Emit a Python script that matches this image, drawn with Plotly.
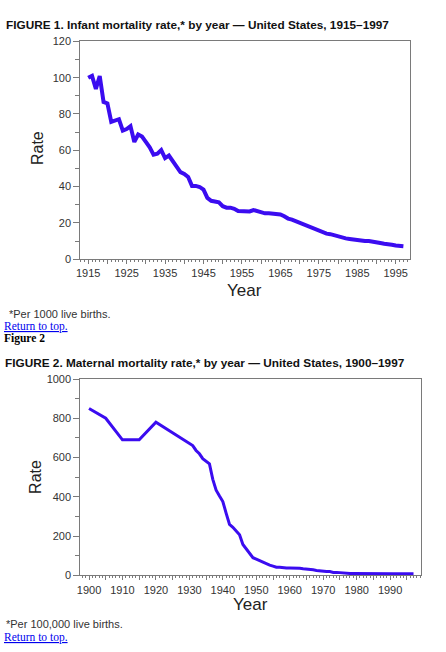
import plotly.graph_objects as go

# Figure 1: infant mortality per 1000 live births
infant_years = list(range(1915, 1998))
infant_rate = [
    99.9, 101.0, 93.8, 100.9, 86.6, 85.8, 75.6, 76.2, 77.1, 70.8,
    71.7, 73.3, 64.6, 68.7, 67.6, 64.6, 61.6, 57.6, 58.1, 60.1,
    55.7, 57.1, 54.4, 51.0, 48.0, 47.0, 45.3, 40.4, 40.4, 39.8,
    38.3, 33.8, 32.2, 32.0, 31.3, 29.2, 28.4, 28.4, 27.8, 26.6,
    26.4, 26.0, 26.3, 27.1, 26.4, 26.0, 25.3, 25.3, 25.2, 24.8,
    24.7, 23.7, 22.4, 21.8, 20.9, 20.0, 19.1, 18.5, 17.7, 16.7,
    16.1, 15.2, 14.1, 13.8, 13.1, 12.6, 11.9, 11.5, 11.2, 10.8,
    10.6, 10.4, 10.1, 10.0, 9.8, 9.2, 8.9, 8.5, 8.4, 8.0,
    7.6, 7.3, 7.2,
]

# Figure 2: maternal mortality per 100,000 live births
maternal_years = [1900, 1905, 1910, 1915, 1920] + list(range(1930, 1998))
maternal_rate = [
    850, 800, 690, 690, 780,
    673, 661, 636, 619, 594, 582, 568, 489, 434, 404,
    376, 316, 259, 245, 228, 207, 157, 134, 117, 90,
    83, 75, 68, 61, 52, 47, 41, 41, 38, 37,
    37, 37, 35, 36, 33, 32, 29, 28, 25, 22,
    21.5, 19, 19, 15, 15, 12.8, 12.3, 11.2, 9.6, 9.6,
    9.2, 8.5, 7.9, 8.0, 7.8, 7.8, 7.2, 6.6, 8.4, 7.9,
    8.2, 7.9, 7.8, 7.5, 8.3, 7.1, 7.6, 8.4,
]

infant_ticks = [1915, 1920, 1925, 1930, 1935, 1940, 1945, 1950, 1955,
                1960, 1965, 1970, 1975, 1980, 1985, 1990, 1995]
maternal_ticks = [1900, 1905, 1910, 1915, 1920, 1925, 1930, 1935, 1940,
                  1945, 1950, 1955, 1960, 1965, 1970, 1975, 1980, 1985,
                  1990, 1995]

W, H = 446, 652


def px(x):
    return x / W


def py(y):
    return 1 - y / H


LINE = "#3b0cf0"
SANS = "Liberation Sans"
SERIF = "Liberation Serif"
AXIS = "#7a7a7a"

fig = go.Figure()

fig.add_trace(go.Scatter(
    x=infant_years, y=infant_rate, mode="lines",
    line=dict(color=LINE, width=4), xaxis="x", yaxis="y",
))
fig.add_trace(go.Scatter(
    x=maternal_years, y=maternal_rate, mode="lines",
    line=dict(color=LINE, width=3), xaxis="x2", yaxis="y2",
))


def xaxis(domain, rng, ticks, anchor):
    return dict(
        domain=domain, range=rng, anchor=anchor,
        tickvals=ticks,
        ticktext=[str(t) if t % 10 == ticks[0] % 10 else "" for t in ticks],
        ticks="outside", ticklen=4, tickwidth=1, tickcolor=AXIS,
        minor=dict(dtick=1, tick0=ticks[0], ticks="outside", ticklen=2,
                   tickcolor=AXIS, showgrid=False),
        showline=True, linecolor=AXIS, linewidth=1, mirror=True,
        showgrid=False, zeroline=False, fixedrange=True,
        tickfont=dict(family=SANS, size=11, color="#333333"),
    )


def yaxis(domain, rng, dtick, anchor):
    return dict(
        domain=domain, range=rng, anchor=anchor, dtick=dtick,
        ticks="outside", ticklen=6, tickwidth=1, tickcolor=AXIS,
        minor=dict(dtick=dtick / 2, ticks="outside", ticklen=4,
                   tickcolor=AXIS, showgrid=False),
        showline=True, linecolor=AXIS, linewidth=1, mirror=True,
        showgrid=False, zeroline=False, fixedrange=True,
        tickfont=dict(family=SANS, size=11, color="#333333"),
    )


fig.update_layout(
    width=W, height=H,
    margin=dict(l=0, r=0, t=0, b=0),
    paper_bgcolor="white", plot_bgcolor="white",
    showlegend=False,
    xaxis=xaxis([px(77), px(410)], [1912.95, 1998.8], infant_ticks, "y"),
    yaxis=yaxis([py(258), py(36)], [0, 120], 20, "x"),
    xaxis2=xaxis([px(77), px(421)], [1897.4, 1999.3], maternal_ticks, "y2"),
    yaxis2=yaxis([py(580), py(380)], [0, 1000], 200, "x2"),
)

notes = [
    # text, x, y, font family, size, color, xanchor, angle
    ("<b>FIGURE 1. Infant mortality rate,* by year \u2014 United States, 1915\u20131997</b>",
     2, 19, SANS, 11.8, "#111111", "left", 0),
    ("Rate", 34, 145, SANS, 16, "#222222", "center", -90),
    ("Year", 243, 290, SANS, 17, "#222222", "center", 0),
    ("*Per 1000 live births.", 5, 314, SANS, 11, "#333333", "left", 0),
    ("<a href='#top' style='color:#0000ee'><u>Return to top.</u></a>",
     0, 326.5, SERIF, 11.5, "#0000ee", "left", 0),
    ("<b>Figure 2</b>", 0, 339, SERIF, 11.5, "#000000", "left", 0),
    ("<b>FIGURE 2. Maternal mortality rate,* by year \u2014 United States, 1900\u20131997</b>",
     1, 364, SANS, 11.8, "#111111", "left", 0),
    ("Rate", 31, 480, SANS, 16, "#222222", "center", -90),
    ("Year", 249, 610, SANS, 17, "#222222", "center", 0),
    ("*Per 100,000 live births.", 2, 630, SANS, 11, "#333333", "left", 0),
    ("<a href='#top' style='color:#0000ee'><u>Return to top.</u></a>",
     0, 643, SERIF, 11.5, "#0000ee", "left", 0),
]

for text, x, y, family, size, color, anchor, angle in notes:
    fig.add_annotation(
        text=text, x=px(x), y=py(y), xref="paper", yref="paper",
        xanchor=anchor, yanchor="middle", showarrow=False, textangle=angle,
        borderpad=0, borderwidth=0,
        font=dict(family=family, size=size, color=color),
    )

# the reference is a bare page, so drop the browser's default body margin
fig.write_html(
    "out.html",
    config={"displayModeBar": False},
    post_script="document.body.style.margin='0';",
)
